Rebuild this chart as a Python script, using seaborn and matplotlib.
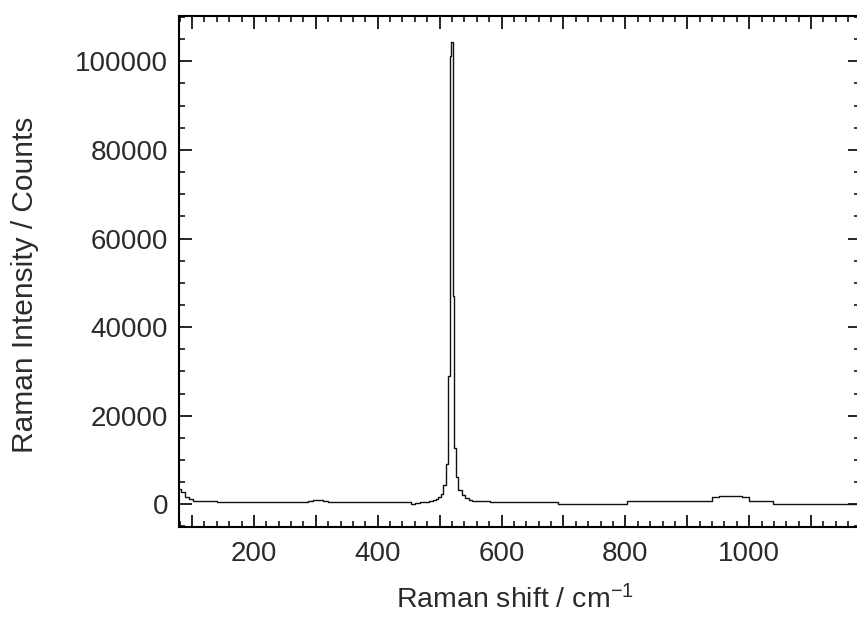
import matplotlib
matplotlib.use("Agg")
import matplotlib.pyplot as plt
from matplotlib.ticker import MultipleLocator, FuncFormatter
import numpy as np
import pandas as pd
import seaborn as sns

# Raman spectrum of a silicon sample (shift in cm^-1, intensity in counts)
raman_shift = [80, 86, 92, 98, 106, 120, 160, 220, 284, 292, 300, 308, 316, 324,
               380, 440, 450, 457, 464, 472, 480, 487, 492, 496, 500, 504, 508,
               511.6, 514.6, 517.6, 520.6, 521.8, 524.4, 527.6, 532.6, 538.6,
               544.6, 550, 556, 562, 600, 650, 688, 694, 750, 800, 806, 860,
               936, 944, 960, 980, 996, 1004, 1020, 1036, 1042, 1100, 1182]
intensity = [3400, 2800, 1700, 1200, 850, 650, 560, 550, 560, 700, 950, 1000, 750, 560,
             550, 550, 450, 100, 350, 550, 600, 750, 900, 1150, 1550, 2300, 4300,
             9000, 29000, 101300, 104300, 47000, 12700, 6200, 3200, 2200,
             1500, 1000, 750, 650, 600, 600, 600, 150, 150, 150, 650, 650,
             650, 1700, 1800, 1800, 1700, 650, 650, 650, 150, 150, 150]

spectrum = pd.DataFrame({"shift": raman_shift, "counts": intensity})

sns.set_theme(style="ticks")
plt.rcParams["font.family"] = ["Liberation Sans", "DejaVu Sans"]
plt.rcParams["mathtext.fontset"] = "custom"
plt.rcParams["mathtext.rm"] = "Liberation Sans"
plt.rcParams["mathtext.it"] = "Liberation Sans"

fig = plt.figure(figsize=(8.57, 6.19), dpi=100)
ax = fig.add_axes([179 / 857, 1 - 526.7 / 619, (860 - 179) / 857, (526.7 - 15.7) / 619])

sns.lineplot(data=spectrum, x="shift", y="counts", ax=ax, estimator=None, sort=False,
             drawstyle="steps-mid", color="#111111", linewidth=1.0)

ax.set_xlim(79, 1179)
ax.set_ylim(-5060, 110300)

ax.xaxis.set_major_locator(MultipleLocator(100))
ax.xaxis.set_minor_locator(MultipleLocator(20))
ax.xaxis.set_major_formatter(FuncFormatter(lambda v, p: f"{int(v)}" if int(round(v)) % 200 == 0 else ""))
ax.yaxis.set_major_locator(MultipleLocator(20000))
ax.yaxis.set_minor_locator(MultipleLocator(5000))
ax.yaxis.set_major_formatter(FuncFormatter(lambda v, p: f"{int(v)}"))

text_color = "#2b2b2b"
ax.tick_params(which="both", direction="in", top=True, right=True, colors="black",
               labelcolor=text_color, labelsize=20)
ax.tick_params(which="major", length=9, width=1.2)
ax.tick_params(which="minor", length=4.5, width=1.1)
ax.tick_params(axis="x", which="major", pad=10)
ax.tick_params(axis="y", which="major", pad=8)

for side in ["left", "right", "top", "bottom"]:
    ax.spines[side].set_linewidth(1.5)
    ax.spines[side].set_color("black")

ax.set_xlabel("Raman shift / cm$^{-1}$", fontsize=20.5, color=text_color)
ax.set_ylabel("Raman Intensity / Counts", fontsize=21.5, color=text_color)
ax.xaxis.set_label_coords(0.493, -0.115)
ax.yaxis.set_label_coords(-0.205, 0.473)

fig.savefig("out.png", dpi=100)
